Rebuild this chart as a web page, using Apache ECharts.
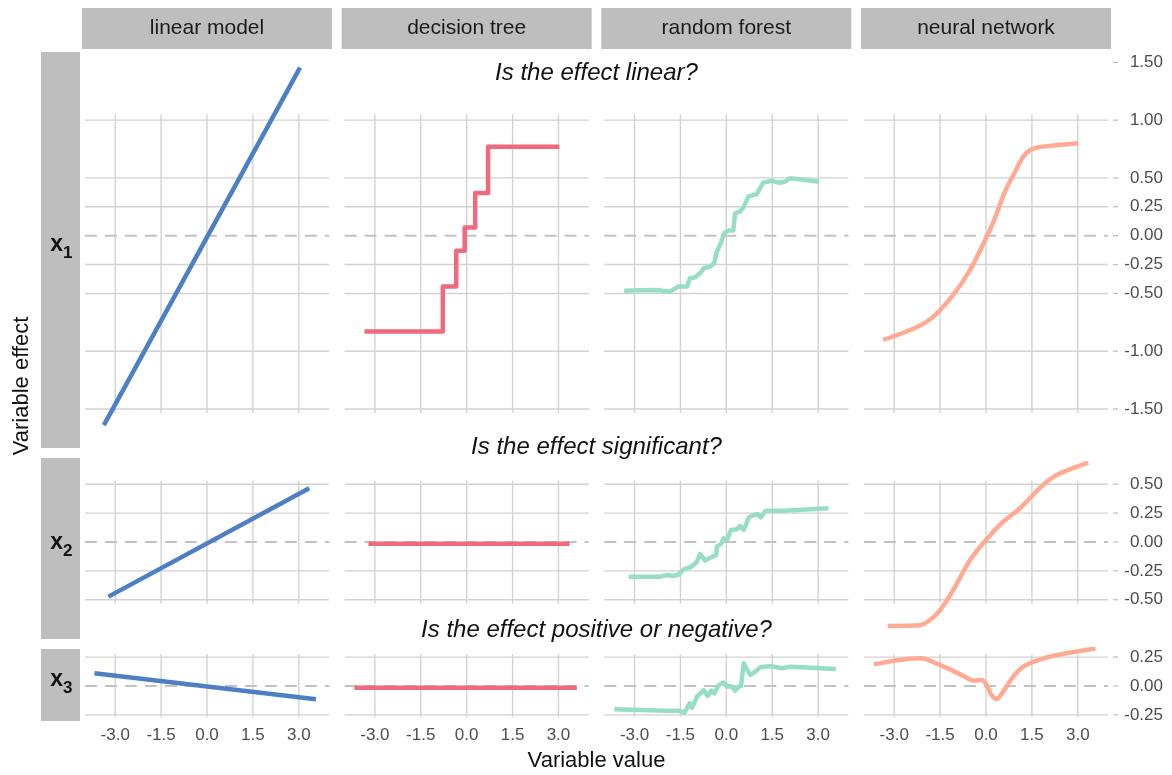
<!DOCTYPE html>
<html>
<head>
<meta charset="utf-8">
<script src="https://cdn.jsdelivr.net/npm/echarts@6/dist/echarts.min.js"></script>
<style>
  html, body { margin: 0; padding: 0; background: #ffffff; }
  #chart { width: 1172px; height: 775px; }
</style>
</head>
<body>
<div id="chart"></div>
<script>
// ---- data -----------------------------------------------------------------
const models = ['linear model', 'decision tree', 'random forest', 'neural network'];
const variables = ['1', '2', '3'];            // subscripts of x1, x2, x3
const questions = ['Is the effect linear?', 'Is the effect significant?', 'Is the effect positive or negative?'];
const xTicks = [-3, -1.5, 0, 1.5, 3];
const yTicksX1 = [1.5, 1, 0.5, 0.25, 0, -0.25, -0.5, -1, -1.5];
const yTicksX2 = [0.5, 0.25, 0, -0.25, -0.5];
const yTicksX3 = [0.25, 0, -0.25];

// partial dependence curves: [variable value, variable effect]
const lmX1 = [[-3.37, -1.64], [3.04, 1.455]];
const lmX2 = [[-3.22, -0.473], [3.34, 0.465]];
const lmX3 = [[-3.68, 0.11], [3.56, -0.115]];

const dtX1 = [[-3.34, -0.83], [-0.78, -0.44], [-0.34, -0.13], [-0.065, 0.07], [0.28, 0.37], [0.70, 0.77], [3.03, 0.77]];
const dtX2 = [[-3.21, -0.015], [3.36, -0.015]];
const dtX3 = [[-3.67, -0.015], [3.60, -0.015]];

const rfX1 = [[-3.34, -0.476], [-2.8, -0.472], [-2.28, -0.47], [-1.84, -0.485], [-1.57, -0.44], [-1.28, -0.44],
  [-1.19, -0.369], [-1.02, -0.36], [-0.86, -0.326], [-0.73, -0.282], [-0.53, -0.268], [-0.40, -0.239],
  [-0.31, -0.138], [-0.18, -0.066], [-0.076, 0.02], [0.065, 0.044], [0.23, 0.044], [0.284, 0.194],
  [0.45, 0.21], [0.56, 0.246], [0.72, 0.338], [0.99, 0.36], [1.21, 0.459], [1.48, 0.476], [1.70, 0.459],
  [1.92, 0.467], [2.08, 0.497], [3.03, 0.467]];
const rfX2 = [[-3.19, -0.30], [-2.16, -0.30], [-1.94, -0.286], [-1.77, -0.295], [-1.59, -0.286], [-1.39, -0.237],
  [-1.18, -0.22], [-0.98, -0.179], [-0.85, -0.104], [-0.69, -0.162], [-0.47, -0.127], [-0.33, -0.113],
  [-0.31, -0.04], [-0.17, -0.017], [-0.09, 0.032], [0.02, 0.017], [0.15, 0.104], [0.35, 0.11], [0.44, 0.139],
  [0.57, 0.104], [0.74, 0.214], [1.00, 0.243], [1.13, 0.214], [1.28, 0.271], [1.87, 0.271], [3.34, 0.292]];
const rfX3 = [[-3.66, -0.202], [-1.94, -0.214], [-1.56, -0.214], [-1.37, -0.231], [-1.20, -0.15], [-1.12, -0.19],
  [-0.96, -0.092], [-0.74, -0.035], [-0.61, -0.087], [-0.50, -0.04], [-0.39, -0.063], [-0.25, 0.009],
  [-0.09, 0.029], [0.04, -0.006], [0.15, 0], [0.29, -0.04], [0.40, -0.006], [0.48, 0], [0.57, 0.196],
  [0.68, 0.139], [0.79, 0.095], [0.95, 0.124], [1.11, 0.162], [1.44, 0.173], [1.82, 0.153], [2.09, 0.167],
  [3.58, 0.147]];

const nnX1 = [[-3.36, -0.903], [-2.27, -0.793], [-1.72, -0.701], [-1.07, -0.513], [-0.52, -0.297], [0, -0.023],
  [0.29, 0.15], [0.62, 0.381], [0.95, 0.554], [1.22, 0.684], [1.49, 0.748], [1.87, 0.771], [3.02, 0.80]];
const nnX2 = [[-3.21, -0.727], [-2.18, -0.722], [-1.83, -0.675], [-1.50, -0.589], [-1.07, -0.416], [-0.52, -0.156],
  [0, 0.017], [0.51, 0.162], [1.11, 0.292], [1.87, 0.494], [2.36, 0.586], [3.34, 0.687]];
const nnX3 = [[-3.66, 0.188], [-2.16, 0.24], [-1.94, 0.231], [-1.18, 0.144], [-0.74, 0.087], [-0.41, 0.046],
  [-0.14, 0.052], [0.02, 0.009], [0.18, -0.078], [0.35, -0.113], [0.51, -0.069], [0.89, 0.081], [1.22, 0.167],
  [1.66, 0.219], [2.31, 0.268], [3.58, 0.325]];

// ---- layout & style -------------------------------------------------------
const FONT = '"Liberation Sans", Arial, Helvetica, sans-serif';
const curves = [
  [lmX1, dtX1, rfX1, nnX1],
  [lmX2, dtX2, rfX2, nnX2],
  [lmX3, dtX3, rfX3, nnX3]
];
const yTicks = [yTicksX1, yTicksX2, yTicksX3];
const colors = ['#4E7FC5', '#F0697D', '#97DFC4', '#FFAB94'];
const colLeft = [82, 341.67, 601.33, 861];
const colWidth = 250;
const rowTop = [52, 458, 649];
const rowHeight = [396, 181, 72];
const rowYMin = [-1.838, -0.84, -0.303];
const rowYMax = [1.59, 0.727, 0.32];
const xMin = -4.085, xMax = 4.085;
// vertical guide extent per row, and horizontal guide positions (zero drawn dashed)
const vSpan = [[-1.535, 1.05], [-0.535, 0.53], [-0.27, 0.275]];
const hGuides = [
  [1, 0.5, 0.25, -0.25, -0.5, -1, -1.5],
  [0.5, 0.25, -0.25, -0.5],
  [0.25, -0.25]
];

const grids = [], xAxes = [], yAxes = [], series = [], graphic = [];

function guideSegments(r) {
  const segs = [];
  xTicks.forEach(x => segs.push([x, vSpan[r][0], x, vSpan[r][1], 0]));
  hGuides[r].forEach(y => segs.push([-3.99, y, 3.99, y, 0]));
  segs.push([-3.99, 0, 3.99, 0, 1]);
  return segs;
}

for (let r = 0; r < 3; r++) {
  for (let c = 0; c < 4; c++) {
    const idx = grids.length;
    grids.push({
      left: colLeft[c], top: rowTop[r], width: colWidth, height: rowHeight[r],
      containLabel: false, outerBoundsMode: 'none'
    });
    const bottom = r === 2;
    xAxes.push({
      gridIndex: idx, type: 'value', min: xMin, max: xMax,
      axisLine: { show: false }, axisTick: { show: false }, splitLine: { show: false },
      axisLabel: {
        show: bottom, customValues: xTicks, margin: 6,
        formatter: v => v.toFixed(1), color: '#4d4d4d', fontSize: 17, fontFamily: FONT
      }
    });
    const right = c === 3;
    yAxes.push({
      gridIndex: idx, type: 'value', min: rowYMin[r], max: rowYMax[r],
      show: right, position: 'right', offset: 2,
      axisLine: { show: false }, splitLine: { show: false }, axisTick: { show: false },
      axisLabel: {
        show: right, customValues: yTicks[r], align: 'right', margin: 50,
        formatter: v => v.toFixed(2), color: '#4d4d4d', fontSize: 17, fontFamily: FONT
      }
    });
    // background guides
    series.push({
      type: 'custom', xAxisIndex: idx, yAxisIndex: idx, silent: true, z: 1,
      encode: { x: [0, 2], y: [1, 3] },
      data: guideSegments(r),
      renderItem: (params, api) => {
        const p1 = api.coord([api.value(0), api.value(1)]);
        const p2 = api.coord([api.value(2), api.value(3)]);
        const dashed = api.value(4) === 1;
        return {
          type: 'line',
          shape: { x1: p1[0], y1: p1[1], x2: p2[0], y2: p2[1] },
          style: dashed
            ? { stroke: '#c2c2c2', lineWidth: 2, lineDash: [12, 8] }
            : { stroke: '#d2d2d2', lineWidth: 1.4 }
        };
      }
    });
    // right-hand tick marks next to the value labels
    if (right) {
      series.push({
        type: 'custom', xAxisIndex: idx, yAxisIndex: idx, silent: true, z: 1, clip: false,
        data: yTicks[r].map(v => [xMax, v]),
        renderItem: (params, api) => {
          const p = api.coord([api.value(0), api.value(1)]);
          return {
            type: 'line',
            shape: { x1: p[0] + 2, y1: p[1], x2: p[0] + 7, y2: p[1] },
            style: { stroke: '#bdbdbd', lineWidth: 1.2 }
          };
        }
      });
    }
    // model curve
    series.push({
      type: 'line', xAxisIndex: idx, yAxisIndex: idx, z: 3,
      data: curves[r][c], showSymbol: false, silent: true,
      step: c === 1 ? 'end' : false,
      smooth: c === 3 ? 0.3 : false,
      lineStyle: { color: colors[c], width: 4.5, cap: 'butt', join: 'round' }
    });
  }
}

// column strips
models.forEach((m, c) => {
  graphic.push({ type: 'rect', shape: { x: colLeft[c], y: 8, width: colWidth, height: 41 }, style: { fill: '#bebebe' }, silent: true });
  graphic.push({ type: 'text', x: colLeft[c] + colWidth / 2, y: 28.5, silent: true,
    style: { text: m, align: 'center', verticalAlign: 'middle', fill: '#1a1a1a', fontSize: 21, fontFamily: FONT } });
});
// row strips with x-subscript labels
variables.forEach((v, r) => {
  const cy = rowTop[r] + rowHeight[r] / 2;
  graphic.push({ type: 'rect', shape: { x: 41, y: rowTop[r], width: 39, height: rowHeight[r] }, style: { fill: '#bebebe' }, silent: true });
  graphic.push({ type: 'text', x: 63, y: cy - 5.5, silent: true,
    style: { text: 'x', align: 'right', verticalAlign: 'middle', fill: '#111', fontSize: 23, fontWeight: 'bold', fontFamily: FONT } });
  graphic.push({ type: 'text', x: 63, y: cy + 3, silent: true,
    style: { text: v, align: 'left', verticalAlign: 'middle', fill: '#111', fontSize: 17, fontWeight: 'bold', fontFamily: FONT } });
});
// row questions
const qY = [73, 447.5, 630];
questions.forEach((q, r) => {
  graphic.push({ type: 'text', x: 596.5, y: qY[r], silent: true,
    style: { text: q, align: 'center', verticalAlign: 'middle', fill: '#111', fontSize: 24, fontStyle: 'italic', fontFamily: FONT } });
});
// axis titles
graphic.push({ type: 'text', x: 596.5, y: 761, silent: true,
  style: { text: 'Variable value', align: 'center', verticalAlign: 'middle', fill: '#111', fontSize: 22, fontFamily: FONT } });
graphic.push({ type: 'text', x: 22, y: 386, rotation: Math.PI / 2, silent: true,
  style: { text: 'Variable effect', align: 'center', verticalAlign: 'middle', fill: '#111', fontSize: 22, fontFamily: FONT } });

const chart = echarts.init(document.getElementById('chart'), null, { renderer: 'canvas' });
chart.setOption({
  animation: false,
  backgroundColor: '#ffffff',
  grid: grids,
  xAxis: xAxes,
  yAxis: yAxes,
  series: series,
  graphic: graphic
});
</script>
</body>
</html>
